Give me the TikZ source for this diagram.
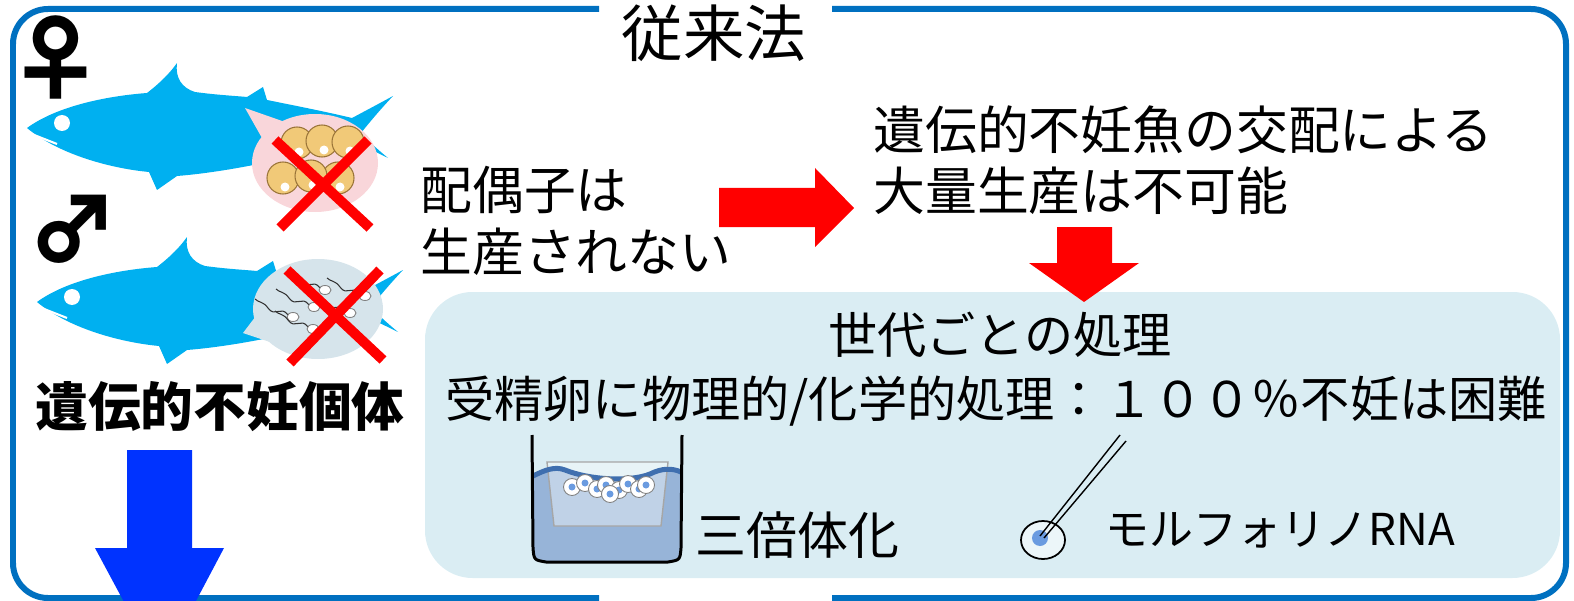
\documentclass[tikz,border=0pt]{standalone}
\usepackage{fontspec}
\newfontfamily\jpfont{Noto Sans CJK JP}
\usetikzlibrary{positioning}

\definecolor{frameblue}{HTML}{0070C0}
\definecolor{fishblue}{HTML}{00B0F0}
\definecolor{panelblue}{HTML}{DAEDF3}
\definecolor{downblue}{HTML}{0033FF}
\definecolor{eggpink}{HTML}{F9D6DA}
\definecolor{miltgrey}{HTML}{D6E4EB}
\definecolor{yolk}{HTML}{F1C978}
\definecolor{yolkline}{HTML}{9A7438}
\definecolor{water}{HTML}{97B4D8}
\definecolor{waterline}{HTML}{3F6FAF}
\definecolor{cellblue}{HTML}{6A9BE0}

\tikzset{
  jp/.style = {font=\jpfont\fontsize{29.5}{35}\selectfont, inner sep=0pt, align=left},
  jpbox/.style = {font=\jpfont\fontsize{28}{33}\selectfont, inner sep=0pt},
  sexmark/.style = {font=\jpfont\bfseries\fontsize{50}{50}\selectfont, inner sep=0pt},
  frame/.style = {draw=frameblue, line width=0.12cm, rounded corners=0.7cm},
  cross/.style = {draw=red, line width=0.2cm},
  egg/.style = {fill=yolk, draw=yolkline, line width=0.6pt},
  sperm/.style = {fill=white, draw=gray, line width=0.5pt},
  fish/.pic = {
    \fill[fishblue] (0,0) .. controls (30,-22) and (80,-32) .. (120,-35)
      .. controls (133,-45) and (143,-55) .. (150,-65)
      .. controls (148,-50) and (155,-40) .. (168,-36)
      .. controls (190,-33) and (210,-32) .. (220,-31)
      -- (236,-41) -- (240,-28)
      .. controls (270,-22) and (300,-16) .. (325,-10)
      .. controls (340,-18) and (355,-26) .. (366,-32)
      .. controls (350,-15) and (338,0) .. (334,5)
      .. controls (343,15) and (355,25) .. (361,30)
      .. controls (345,22) and (330,15) .. (320,12)
      .. controls (270,30) and (200,44) .. (150,48)
      -- (130,62) -- (122,44)
      .. controls (80,40) and (30,25) .. (0,0) -- cycle;
    \fill[white] (35,-5) circle (8);
    \draw[white, line width=1.2pt] (2,5) -- (30,16);
  }
}

\begin{document}
\begin{tikzpicture}[x=0.02cm, y=-0.02cm]
  \useasboundingbox (0,0) rectangle (1574,601);

  % frame, open at the title and at the bottom
  \draw[frame] (599,9) -- (13,9) -- (13,598) -- (599,598);
  \draw[frame] (832,9) -- (1566,9) -- (1566,598) -- (832,598);
  \node[jp, font=\jpfont\fontsize{35}{40}\selectfont] (title) at (714,33) {従来法};

  % female
  \node[sexmark, font=\jpfont\bfseries\fontsize{54}{54}\selectfont] (female) at (56,57) {♀};
  \pic at (27,128) {fish};
  \fill[eggpink] (245,108) -- (262,138) -- (285,122) -- cycle;
  \fill[eggpink] (315,163) ellipse (63 and 49);
  \foreach \ex/\ey in {283/178, 338/178, 311/176, 297/143, 322/141, 348/142} {
    \filldraw[egg] (\ex,\ey) circle (16);
    \fill[white] ({\ex+2},{\ey+9}) circle (4.5);
  }
  \draw[cross] (275,140) -- (370,228) (368,140) -- (280,228);

  % male
  \node[sexmark] (male) at (72,229) {♂};
  \pic at (37,302) {fish};
  \fill[miltgrey] (243,333) -- (262,308) -- (270,342) -- cycle;
  \fill[miltgrey] (318,309) ellipse (65 and 50);
  \foreach \hx/\hy in {293/317, 313/329, 314/307, 325/290, 350/313, 365/296} {
    \draw[black!80, line width=0.6pt] ({\hx-5},{\hy-2})
      .. controls ({\hx-12},{\hy-12}) and ({\hx-18},{\hy+1}) .. ({\hx-25},{\hy-9})
      .. controls ({\hx-30},{\hy-16}) and ({\hx-34},{\hy-14}) .. ({\hx-38},{\hy-18});
    \filldraw[sperm] (\hx,\hy) ellipse (6 and 4.5);
  }
  \draw[cross] (287,270) -- (383,360) (380,270) -- (290,363);

  \node[jp, font=\jpfont\bfseries\fontsize{30}{35}\selectfont] (sterile) at (220,407) {遺伝的不妊個体};
  \fill[downblue] (127,450) -- (192,450) -- (192,548) -- (224,548) -- (160,669)
    -- (95,548) -- (127,548) -- cycle;

  % gametes and mass production
  \node[jp, anchor=west] (nogamete) at (420,221) {配偶子は\\生産されない};
  \node[jp, anchor=west] (nomass) at (873,160) {遺伝的不妊魚の交配による\\大量生産は不可能};
  \fill[red] (719,188) -- (815,188) -- (815,168) -- (854,208) -- (815,247)
    -- (815,227) -- (719,227) -- cycle;

  % treatment of each generation
  \fill[panelblue, rounded corners=0.95cm] (425,292) rectangle (1560,578);
  \fill[red] (1057,227) -- (1112,227) -- (1112,263) -- (1139,263) -- (1084,302)
    -- (1029,263) -- (1057,263) -- cycle;
  \node[jpbox] (panelhead) at (1000,335) {世代ごとの処理};
  \node[jpbox] (panelbody) at (996,401) {受精卵に物理的/化学的処理：１００％不妊は困難};

  % triploidy beaker
  \fill[water] (533,476) .. controls (545,470) and (555,466) .. (565,470)
    .. controls (590,480) and (630,482) .. (650,474)
    .. controls (662,468) and (672,468) .. (681,472) -- (681,548)
    .. controls (681,558) and (676,561) .. (668,561) -- (546,561)
    .. controls (538,561) and (533,558) .. (533,548) -- cycle;
  \filldraw[fill=white, fill opacity=.4, draw=gray!70, line width=0.8pt]
    (547,462) -- (668,462) -- (661,526) -- (554,526) -- cycle;
  \draw[waterline, line width=0.1cm] (533,476) .. controls (545,470) and (555,466) .. (565,470)
    .. controls (590,480) and (630,482) .. (650,474)
    .. controls (662,468) and (672,468) .. (681,472);
  \foreach \ex/\ey in {572/487, 585/483, 597/489, 606/485, 619/490, 628/484, 639/489, 646/485, 610/494} {
    \filldraw[fill=white, draw=gray, line width=0.5pt] (\ex,\ey) circle (8.5);
    \fill[cellblue] (\ex,\ey) circle (3.5);
  }
  \draw[line width=0.06cm, line join=round] (532,435) -- (533,548)
    .. controls (534,560) .. (546,562) -- (668,562)
    .. controls (680,560) .. (681,548) -- (682,435);
  \node[jp, anchor=west, font=\jpfont\fontsize{29}{34}\selectfont] (triploid) at (695,535) {三倍体化};

  % morpholino injection
  \filldraw[fill=panelblue!50!white, draw=black, line width=1pt] (1043,540) ellipse (22 and 19);
  \fill[cellblue] (1040,538) circle (8);
  \draw[line width=0.8pt] (1120,435) -- (1040,536);
  \draw[line width=0.8pt] (1126,441) -- (1044,538);
  \node[jp, anchor=west, font=\jpfont\fontsize{25}{30}\selectfont] (morpholino) at (1105,530) {モルフォリノRNA};
\end{tikzpicture}
\end{document}
